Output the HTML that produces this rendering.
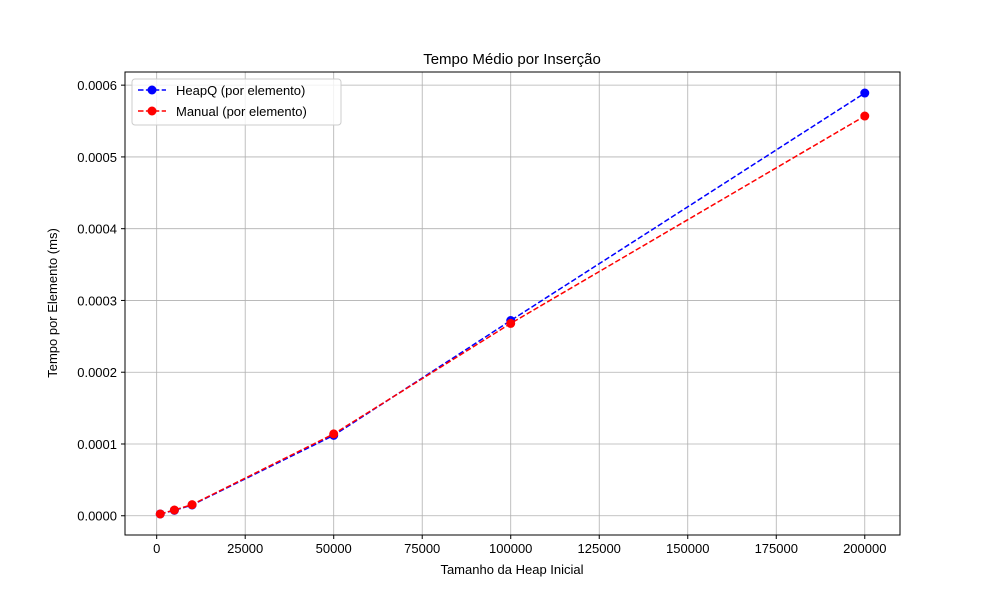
<!DOCTYPE html>
<html><head><meta charset="utf-8"><style>
body{margin:0;background:#fff}
svg{display:block;font-family:"Liberation Sans","DejaVu Sans",sans-serif}
</style></head><body>
<svg id="chart" width="1000" height="600" xmlns="http://www.w3.org/2000/svg">
<rect width="1000" height="600" fill="#fff"/>
<g id="grid"></g>
<g id="ticks"></g>
<g id="series"></g>
<rect x="125" y="72" width="775" height="463" fill="none" stroke="#000" stroke-width="1"/>
<text x="512" y="64" font-size="15" text-anchor="middle">Tempo Médio por Inserção</text>
<text x="512" y="574" font-size="13" text-anchor="middle">Tamanho da Heap Inicial</text>
<text transform="translate(57,303) rotate(-90)" font-size="13" text-anchor="middle">Tempo por Elemento (ms)</text>
<g>
<rect x="132" y="79" width="209" height="46" rx="3" fill="#fff" fill-opacity="0.8" stroke="#ccc"/>
<g>
<line x1="138" y1="90" x2="166" y2="90" stroke="blue" stroke-width="1.5" stroke-dasharray="5.5,2.4"/>
<circle cx="152" cy="90" r="4.5" fill="blue"/>
<text x="176" y="95" font-size="13">HeapQ (por elemento)</text></g>
<g>
<line x1="138" y1="111" x2="166" y2="111" stroke="red" stroke-width="1.5" stroke-dasharray="5.5,2.4"/>
<circle cx="152" cy="111" r="4.5" fill="red"/>
<text x="176" y="116" font-size="13">Manual (por elemento)</text></g>
</g>
</svg>
<script>
const sizes=[1000,5000,10000,50000,100000,200000];
const heapq=[0.0000025,0.0000075,0.000015,0.000112,0.000272,0.000589];
const manual=[0.0000025,0.000008,0.0000155,0.000114,0.000268,0.000557];
const xTicks=[0,25000,50000,75000,100000,125000,150000,175000,200000];
const yTicks=[0,0.0001,0.0002,0.0003,0.0004,0.0005,0.0006];
const yLabels=["0.0000","0.0001","0.0002","0.0003","0.0004","0.0005","0.0006"];
const L=125,R=900,T=72,B=535;
const xs=Math.min(...sizes),xe=Math.max(...sizes),xm=(xe-xs)*0.05;
const allY=heapq.concat(manual);const ys=Math.min(...allY),ye=Math.max(...allY),ym=(ye-ys)*0.05;
const X=v=>L+(v-(xs-xm))/((xe+xm)-(xs-xm))*(R-L);
const Y=v=>B-(v-(ys-ym))/((ye+ym)-(ys-ym))*(B-T);
const NS="http://www.w3.org/2000/svg";
function mk(tag,attrs,parent){const e=document.createElementNS(NS,tag);for(const k in attrs)e.setAttribute(k,attrs[k]);parent.appendChild(e);return e;}
const grid=document.getElementById('grid'),ticks=document.getElementById('ticks'),series=document.getElementById('series');
xTicks.forEach(t=>{const x=X(t);
const g=mk('line',{x1:x,x2:x,y1:T,y2:B,stroke:'#b0b0b0','stroke-width':0.8},grid);


mk('line',{x1:x,x2:x,y1:B,y2:B+4,stroke:'#000'},ticks);
const tx=mk('text',{x:x,y:B+18,'font-size':13,'text-anchor':'middle'},ticks);tx.textContent=String(t);

});
yTicks.forEach((t,i)=>{const y=Y(t);
const g=mk('line',{x1:L,x2:R,y1:y,y2:y,stroke:'#b0b0b0','stroke-width':0.8},grid);


mk('line',{x1:L-4,x2:L,y1:y,y2:y,stroke:'#000'},ticks);
const tx=mk('text',{x:L-8,y:y+5,'font-size':13,'text-anchor':'end'},ticks);tx.textContent=yLabels[i];

});
function draw(vals,color,name){
const g=mk('g',{},series);


const pl=mk('polyline',{points:sizes.map((s,i)=>X(s)+','+Y(vals[i])).join(' '),fill:'none',stroke:color,'stroke-width':1.5,'stroke-dasharray':'5.5,2.4'},g);


sizes.forEach((s,i)=>{const c=mk('circle',{cx:X(s),cy:Y(vals[i]),r:4.5,fill:color},g);

});}
draw(heapq,'blue','heapq');
draw(manual,'red','manual');
</script>
</body></html>
